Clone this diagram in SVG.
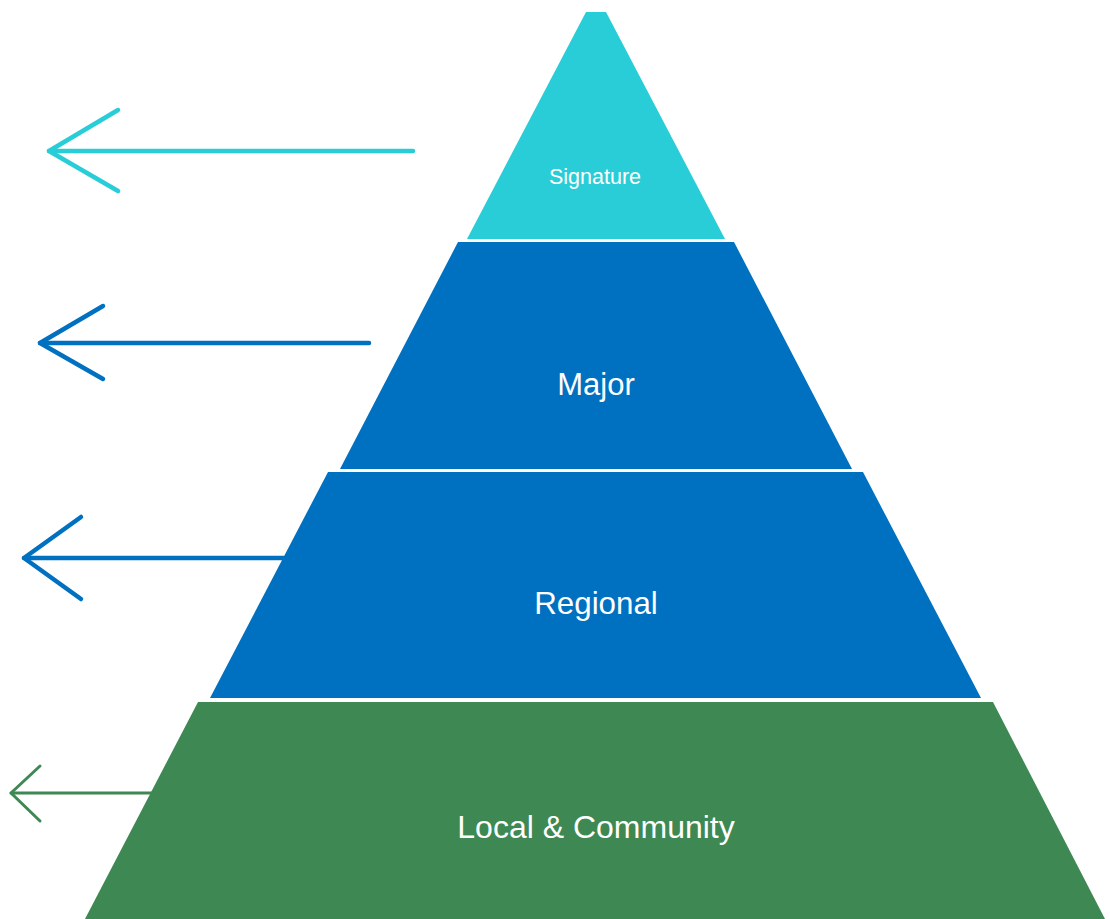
<svg xmlns="http://www.w3.org/2000/svg" width="1110" height="919" viewBox="0 0 1110 919">
  <style>
    .lbl { font-family: "Liberation Sans", Arial, sans-serif; fill: #ffffff; text-anchor: middle; }
    .arrow { fill: none; stroke-linecap: round; stroke-linejoin: round; }
  </style>
  <rect width="1110" height="919" fill="#ffffff"/>

  <!-- pyramid tiers, top to bottom -->
  <g id="signature">
    <polygon points="586,12 606,12 725,239 467,239" fill="#29CDD7"/>
    <text class="lbl" x="595" y="184" font-size="21.5">Signature</text>
  </g>
  <g id="major">
    <polygon points="458,242 734,242 852,469 340,469" fill="#0070C0"/>
    <text class="lbl" x="596" y="395" font-size="31">Major</text>
  </g>
  <g id="regional">
    <polygon points="328,472 863,472 981,698 210,698" fill="#0070C0"/>
    <text class="lbl" x="596" y="614" font-size="31.3">Regional</text>
  </g>
  <g id="local">
    <polygon points="198,702 993,702 1105,919 85,919" fill="#3E8853"/>
    <text class="lbl" x="596" y="838" font-size="32">Local &amp; Community</text>
  </g>

  <!-- left-pointing arrows beside each tier -->
  <g id="connectors">
    <g class="arrow" stroke="#29CDD7" stroke-width="4.5">
      <line x1="413" y1="151" x2="49" y2="151"/>
      <polyline points="118,110 49,151 118,191"/>
    </g>
    <g class="arrow" stroke="#0070C0" stroke-width="4.5">
      <line x1="369" y1="343" x2="40" y2="343"/>
      <polyline points="103,306 40,343 103,379"/>
    </g>
    <g class="arrow" stroke="#0070C0" stroke-width="4.5">
      <line x1="284" y1="558" x2="24" y2="558"/>
      <polyline points="81,517 24,558 81,599"/>
    </g>
    <g class="arrow" stroke="#3E8853" stroke-width="3">
      <line x1="163" y1="793" x2="11" y2="793"/>
      <polyline points="40,766 11,793 40,821"/>
    </g>
  </g>
</svg>
